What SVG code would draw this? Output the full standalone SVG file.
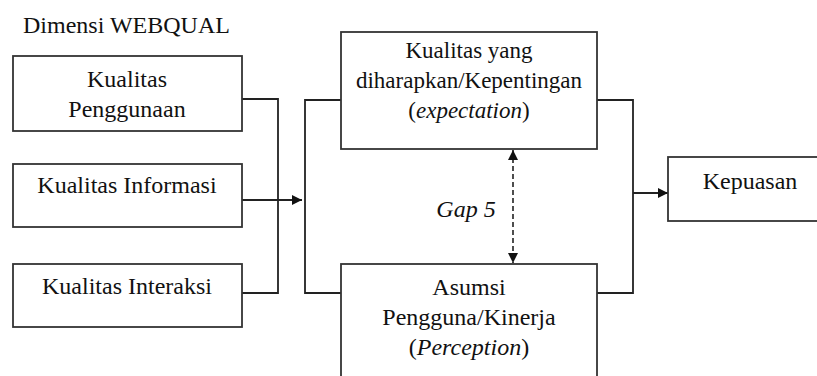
<svg xmlns="http://www.w3.org/2000/svg" width="817" height="376" viewBox="0 0 817 376">
<style>
.box{fill:#fff;stroke:#333;stroke-width:1.8}
.t{font-family:"Liberation Serif",serif;font-size:23px;fill:#111;text-anchor:middle}
.l{font-size:24px}
.i{font-style:italic}
.c{fill:none;stroke:#222;stroke-width:1.8}
.d{fill:none;stroke:#222;stroke-width:1.6;stroke-dasharray:5,3}
</style>
<defs>
<marker id="ah" viewBox="0 0 10 10" refX="10" refY="5" markerWidth="12" markerHeight="10" markerUnits="userSpaceOnUse" orient="auto-start-reverse">
<path d="M0,0 L10,5 L0,10 z" fill="#111"/>
</marker>
</defs>
<rect width="817" height="376" fill="#fff"/>
<text class="t l" x="23" y="33" style="text-anchor:start">Dimensi WEBQUAL</text>
<g id="connectors">
<path class="c" d="M242,99 H278 V293 H242"/>
<path class="c" d="M242,200 H302" marker-end="url(#ah)"/>
<path class="c" d="M341,100 H305 V293 H341"/>
<path class="c" d="M597,100 H633 V293 H597"/>
<path class="c" d="M633,193 H668" marker-end="url(#ah)"/>
<path class="d" d="M513,150 V263" marker-start="url(#ah)" marker-end="url(#ah)"/>
<text class="t i l" x="466" y="217">Gap 5</text>
</g>
<g id="kualitas-penggunaan">
<rect class="box" x="13" y="56" width="229" height="75"/>
<text class="t l" x="127" y="87">Kualitas</text>
<text class="t l" x="127" y="117">Penggunaan</text>
</g>
<g id="kualitas-informasi">
<rect class="box" x="13" y="164" width="229" height="63"/>
<text class="t l" x="127" y="193">Kualitas Informasi</text>
</g>
<g id="kualitas-interaksi">
<rect class="box" x="13" y="264" width="229" height="63"/>
<text class="t l" x="127" y="294">Kualitas Interaksi</text>
</g>
<g id="expectation">
<rect class="box" x="341" y="32" width="256" height="117"/>
<text class="t" x="469" y="58">Kualitas yang</text>
<text class="t" x="469" y="88">diharapkan/Kepentingan</text>
<text class="t" x="469" y="118">(<tspan class="i">expectation</tspan>)</text>
</g>
<g id="perception">
<rect class="box" x="341" y="264" width="256" height="130"/>
<text class="t l" x="469" y="295">Asumsi</text>
<text class="t l" x="469" y="325">Pengguna/Kinerja</text>
<text class="t l" x="469" y="355">(<tspan class="i">Perception</tspan>)</text>
</g>
<g id="kepuasan">
<rect class="box" x="668" y="157" width="170" height="64"/>
<text class="t l" x="750" y="189">Kepuasan</text>
</g>
</svg>
